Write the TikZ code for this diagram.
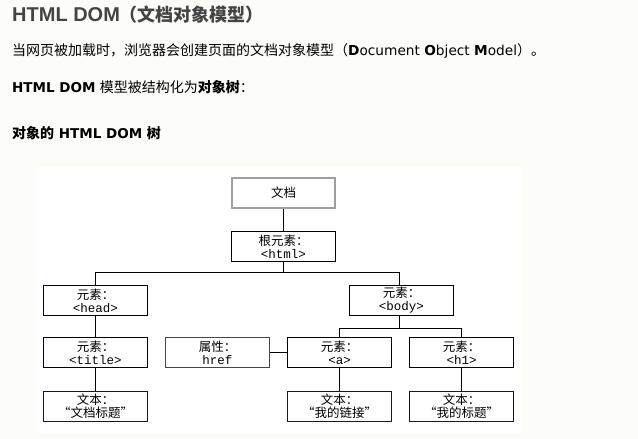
\documentclass[tikz,border=0pt]{standalone}
\usepackage{fontspec}
\setmainfont{DejaVu Sans}
\newfontfamily\cjk{Noto Sans CJK SC}
\newfontfamily\arialf{Liberation Sans}
\newfontfamily\monof{Liberation Mono}
\definecolor{pagebg}{RGB}{252,252,248}
\definecolor{titlegray}{RGB}{68,68,68}
\definecolor{docgray}{RGB}{160,160,160}
\definecolor{attrred}{RGB}{235,0,0}
\definecolor{textblue}{RGB}{0,0,225}
\begin{document}
\begin{tikzpicture}[x=1pt,y=-1pt,
  txt/.style={anchor=base west,inner sep=0pt},
  boxbase/.style={line width=1pt,fill=white,minimum width=104pt,minimum height=30pt,inner sep=0pt,align=center,font=\fontsize{12.5}{13}\selectfont},
  box/.style={boxbase,draw=black},
  docbox/.style={boxbase,draw=docgray,line width=2pt,minimum width=103pt,minimum height=30pt},
  attrbox/.style={boxbase,draw=attrred},
  textbox/.style={boxbase,draw=textblue},
  conn/.style={draw=black,line width=1pt}]
\fill[pagebg] (0,0) rectangle (638,439);
\useasboundingbox (0,0) rectangle (638,439);
\fill[white] (36,167) rectangle (522,433);
% header texts
\node[txt,text=titlegray] (t1) at (12,21) {\arialf\bfseries\fontsize{20}{24}\selectfont HTML DOM{\cjk\fontsize{18}{24}\selectfont （文档对象模型）}};
\node[txt] (t2) at (12,56) {\fontsize{13.7}{16}\selectfont{\cjk\fontsize{14}{16}\selectfont 当网页被加载时，浏览器会创建页面的文档对象模型（}\textbf{D}ocument \textbf{O}bject \textbf{M}odel{\cjk\fontsize{14}{16}\selectfont ）。}};
\node[txt] (t3) at (12,92) {\fontsize{13.5}{16}\selectfont\textbf{HTML DOM} {\cjk\fontsize{14}{16}\selectfont 模型被结构化为\textbf{对象树}：}};
\node[txt] (t4) at (12,138) {\fontsize{13.5}{16}\selectfont\bfseries{\cjk\fontsize{14}{16}\selectfont 对象的} HTML DOM {\cjk\fontsize{14}{16}\selectfont 树}};
% tree nodes
\node[docbox] (doc) at (283.5,193) {\cjk 文档};
\node[box] (root) at (283.5,246.5) {\cjk 根元素：\\\monof <html>};
\node[box] (head) at (95.5,300.5) {\cjk 元素：\\\monof <head>};
\node[box] (body) at (401.5,300.5) {\cjk 元素：\\\monof <body>};
\node[box] (title) at (95.5,352.5) {\cjk 元素：\\\monof <title>};
\node[attrbox] (href) at (217.5,352.5) {\cjk 属性：\\\monof href};
\node[box] (a) at (339.5,352.5) {\cjk 元素：\\\monof <a>};
\node[box] (h1) at (461.5,352.5) {\cjk 元素：\\\monof <h1>};
\node[textbox] (tt) at (95.5,406.5) {\cjk 文本：\\\cjk “文档标题”};
\node[textbox] (ta) at (339.5,406.5) {\cjk 文本：\\\cjk “我的链接”};
\node[textbox] (th) at (461.5,406.5) {\cjk 文本：\\\cjk “我的标题”};
% junctions
\coordinate (j1) at (283.5,272.5);
\coordinate (jb) at (399.5,272.5);
\coordinate (j2) at (399.5,328.5);
% connectors
\draw[conn] (doc) -- (root);
\draw[conn] (root.south) -- (j1);
\draw[conn] (head.north) |- (jb) -- (jb |- body.north);
\draw[conn] (j2 |- body.south) -- (j2);
\draw[conn] (a.north) |- (j2) -| (h1.north);
\draw[conn] (href) -- (a);
\draw[conn] (head) -- (title);
\draw[conn] (title) -- (tt);
\draw[conn] (a) -- (ta);
\draw[conn] (h1) -- (th);
\end{tikzpicture}
\end{document}
